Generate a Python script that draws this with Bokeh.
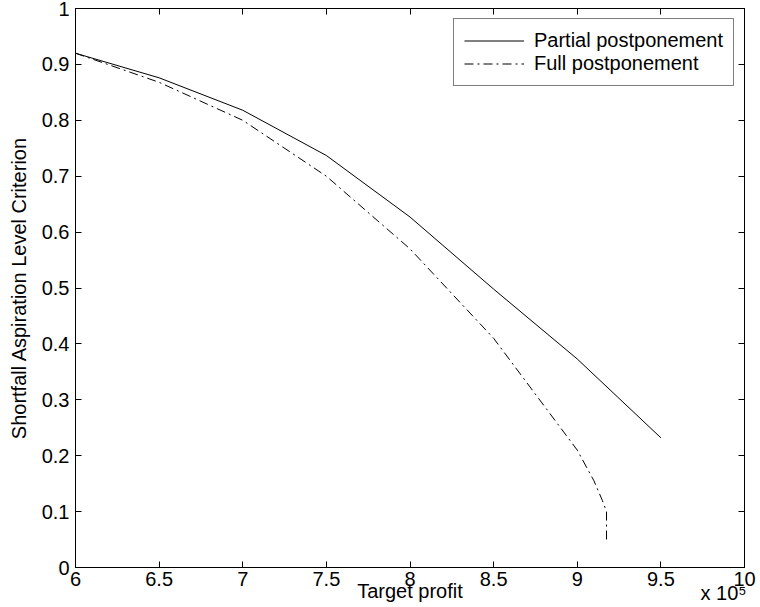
from bokeh.plotting import figure
from bokeh.models import (Range1d, LinearAxis, FixedTicker, CustomJSTickFormatter,
                          Legend, LegendItem)
from bokeh.embed import file_html
from bokeh.resources import INLINE

# Target profit levels and the resulting shortfall aspiration level criterion
partial_profit = [600000, 650000, 700000, 750000, 800000, 850000, 900000, 950000]
partial_sal = [0.920, 0.876, 0.818, 0.737, 0.627, 0.498, 0.373, 0.232]

full_profit = [600000, 650000, 700000, 750000, 800000, 850000, 900000,
               910000, 915000, 917500, 917500]
full_sal = [0.920, 0.868, 0.800, 0.700, 0.570, 0.410, 0.210,
            0.155, 0.120, 0.100, 0.045]

x_ticks = [600000, 650000, 700000, 750000, 800000, 850000, 900000, 950000, 1000000]
y_ticks = [0, 0.1, 0.2, 0.3, 0.4, 0.5, 0.6, 0.7, 0.8, 0.9, 1.0]
scale_note = "x 10⁵"
scale_note_at = 987500

FONT = "Liberation Sans"
FS = "20px"

p = figure(width=760, height=607, output_backend="svg", toolbar_location=None,
           x_range=Range1d(600000, 1000000), y_range=Range1d(0, 1),
           min_border_left=75, min_border_right=16, min_border_top=8,
           min_border_bottom=40, x_axis_location=None, y_axis_location=None)
p.grid.visible = False
p.outline_line_color = "black"
p.outline_line_width = 1
p.background_fill_color = "white"
p.border_fill_color = "white"

x_fmt = CustomJSTickFormatter(code="return String(Number((tick/1e5).toFixed(2)));")
y_fmt = CustomJSTickFormatter(code="return String(Number(tick.toFixed(2)));")
blank = CustomJSTickFormatter(code="return '';")


def style(ax, labelled):
    ax.major_tick_in = 6
    ax.major_tick_out = 0
    ax.minor_tick_line_color = None
    ax.axis_line_color = "black"
    ax.major_tick_line_color = "black"
    ax.major_label_text_font = FONT
    ax.major_label_text_font_size = FS if labelled else "0px"
    ax.major_label_text_color = "black"
    ax.axis_label_text_font = FONT
    ax.axis_label_text_font_size = FS
    ax.axis_label_text_font_style = "normal"
    ax.axis_label_text_color = "black"


# bottom axis: tick marks and the numbers
bottom = LinearAxis(ticker=FixedTicker(ticks=x_ticks), formatter=x_fmt)
style(bottom, True)
bottom.major_label_standoff = 4
p.add_layout(bottom, "below")

# second bottom row: axis title plus the x 10^5 scale note at the right end
title_row = LinearAxis(ticker=FixedTicker(ticks=[scale_note_at]),
                       major_label_overrides={scale_note_at: scale_note},
                       axis_label="Target profit")
style(title_row, True)
title_row.axis_line_color = None
title_row.major_tick_line_color = None
title_row.major_tick_in = 0
title_row.major_label_standoff = -7
title_row.axis_label_standoff = -27
p.add_layout(title_row, "below")

left = LinearAxis(ticker=FixedTicker(ticks=y_ticks), formatter=y_fmt,
                  axis_label="Shortfall Aspiration Level Criterion")
style(left, True)
left.major_label_standoff = 6
left.axis_label_standoff = 9
p.add_layout(left, "left")

top = LinearAxis(ticker=FixedTicker(ticks=x_ticks), formatter=blank)
style(top, False)
top.major_label_standoff = 0
p.add_layout(top, "above")

right = LinearAxis(ticker=FixedTicker(ticks=y_ticks), formatter=blank)
style(right, False)
right.major_label_standoff = 0
p.add_layout(right, "right")

r_partial = p.line(partial_profit, partial_sal, line_color="black", line_width=1)
r_full = p.line(full_profit, full_sal, line_color="black", line_width=1,
                line_dash="9 4 2 4")

legend = Legend(items=[LegendItem(label="Partial postponement", renderers=[r_partial]),
                       LegendItem(label="Full postponement", renderers=[r_full])],
                location="top_right")
legend.label_text_font = FONT
legend.label_text_font_size = FS
legend.label_text_color = "black"
legend.border_line_color = "black"
legend.border_line_width = 1
legend.background_fill_alpha = 1
legend.glyph_width = 60
legend.glyph_height = 23
legend.label_height = 23
legend.spacing = 0
legend.padding = 10
legend.margin = 10
legend.label_standoff = 10
p.add_layout(legend, "center")

open("out.html", "w").write(file_html(p, INLINE))
